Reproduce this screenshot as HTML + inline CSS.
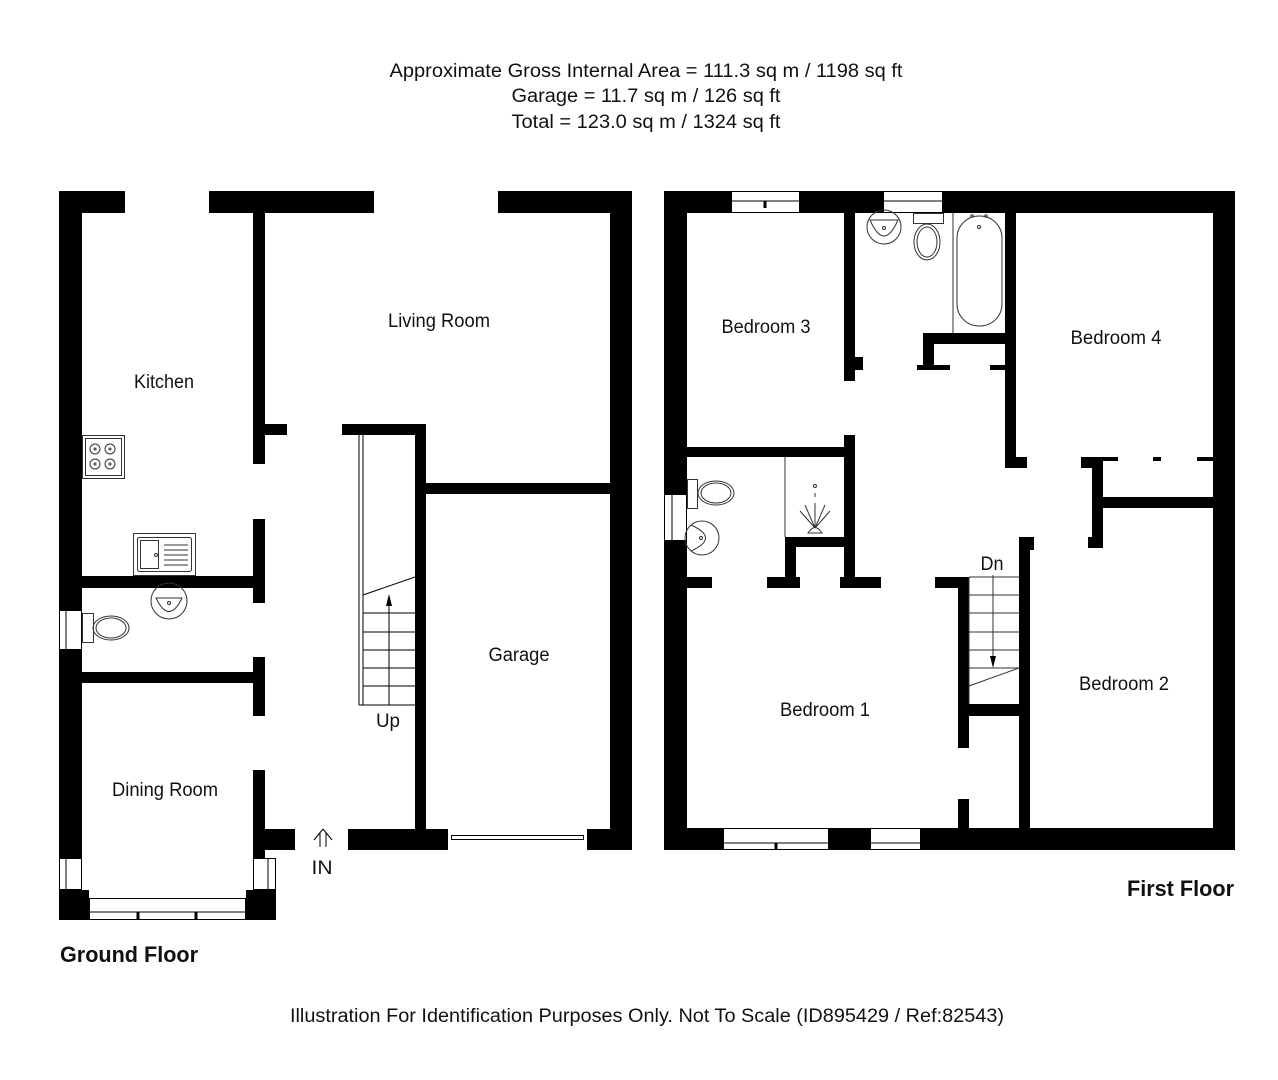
<!DOCTYPE html>
<html><head><meta charset="utf-8"><style>
html,body{margin:0;padding:0;background:#fff;}
svg{display:block;}
text{font-family:"Liberation Sans",Arial,sans-serif;fill:#111;}
</style></head><body>
<svg width="1278" height="1080" viewBox="0 0 1278 1080" xmlns="http://www.w3.org/2000/svg">
<rect width="1278" height="1080" fill="#fff"/>
<g font-size="19">
<text x="646" y="77" text-anchor="middle" textLength="513" lengthAdjust="spacingAndGlyphs">Approximate Gross Internal Area = 111.3 sq m / 1198 sq ft</text>
<text x="646" y="102" text-anchor="middle" textLength="269" lengthAdjust="spacingAndGlyphs">Garage = 11.7 sq m / 126 sq ft</text>
<text x="646" y="128" text-anchor="middle" textLength="269" lengthAdjust="spacingAndGlyphs">Total = 123.0 sq m / 1324 sq ft</text>
<text x="647" y="1022" text-anchor="middle" textLength="714" lengthAdjust="spacingAndGlyphs">Illustration For Identification Purposes Only. Not To Scale (ID895429 / Ref:82543)</text>
</g>

<!-- GROUND FLOOR -->
<g fill="#000">
<rect x="59" y="191" width="66" height="22"/>
<rect x="209" y="191" width="165" height="22"/>
<rect x="498" y="191" width="133" height="22"/>
<rect x="59" y="191" width="23" height="419"/>
<rect x="59" y="650" width="23" height="208"/>
<rect x="59" y="890" width="30" height="30"/>
<rect x="246" y="890" width="30" height="30"/>
<rect x="610" y="191" width="22" height="659"/>
<rect x="253" y="213" width="12" height="251"/>
<rect x="253" y="424" width="34" height="11"/>
<rect x="342" y="424" width="84" height="11"/>
<rect x="415" y="424" width="11" height="405"/>
<rect x="426" y="483" width="184" height="11"/>
<rect x="253" y="519" width="12" height="84"/>
<rect x="82" y="576" width="182" height="12"/>
<rect x="82" y="672" width="182" height="11"/>
<rect x="253" y="657" width="12" height="59"/>
<rect x="253" y="770" width="12" height="88"/>
<rect x="253" y="829" width="42" height="21"/>
<rect x="348" y="829" width="100" height="21"/>
<rect x="587" y="829" width="45" height="21"/>
</g>
<g fill="#fff" stroke="#000" stroke-width="1">
<rect x="59.5" y="610.5" width="22" height="39"/>
<line x1="66" y1="610" x2="66" y2="650"/>
<rect x="59.5" y="858.5" width="22" height="31"/>
<line x1="66" y1="858" x2="66" y2="890"/>
<rect x="253.5" y="858.5" width="22" height="31"/>
<line x1="268" y1="858" x2="268" y2="890"/>
<rect x="89.5" y="898.5" width="156" height="21"/>
<line x1="89" y1="912" x2="246" y2="912"/>
<line x1="138" y1="912" x2="138" y2="920" stroke-width="3"/>
<line x1="196" y1="912" x2="196" y2="920" stroke-width="3"/>
<rect x="451.5" y="835.5" width="132" height="4"/>
</g>
<!-- stairs ground -->
<g stroke="#000" stroke-width="1" fill="none">
<line x1="359" y1="435" x2="359" y2="705"/>
<line x1="363" y1="435" x2="363" y2="705"/>
<line x1="359" y1="705" x2="415" y2="705"/>
<line x1="363" y1="613" x2="415" y2="613"/>
<line x1="363" y1="632" x2="415" y2="632"/>
<line x1="363" y1="650" x2="415" y2="650"/>
<line x1="363" y1="668" x2="415" y2="668"/>
<line x1="363" y1="686" x2="415" y2="686"/>
<line x1="363" y1="595" x2="415" y2="577"/>
<line x1="389" y1="705" x2="389" y2="600"/>
<path d="M323 829 L314 840 M323 829 L332 840 M320 833 V847 M326 833 V847"/>
</g>
<polygon points="389,594 386,606 392,606" fill="#000"/>
<!-- kitchen fixtures -->
<g stroke="#333" stroke-width="1" fill="none">
<rect x="82.5" y="435.5" width="42" height="43"/>
<rect x="85.5" y="438.5" width="36" height="37"/>
<circle cx="95" cy="449" r="5"/><circle cx="110" cy="449" r="5"/>
<circle cx="95" cy="464" r="5"/><circle cx="110" cy="464" r="5"/>
<circle cx="95" cy="449" r="1"/><circle cx="110" cy="449" r="1"/>
<circle cx="95" cy="464" r="1"/><circle cx="110" cy="464" r="1"/>
<rect x="133.5" y="533.5" width="62" height="42"/>
<rect x="137.5" y="537.5" width="54" height="34" rx="2"/>
<rect x="140.5" y="540.5" width="18" height="28"/>
<line x1="164" y1="545" x2="188" y2="545"/><line x1="164" y1="550" x2="188" y2="550"/>
<line x1="164" y1="555" x2="188" y2="555"/><line x1="164" y1="560" x2="188" y2="560"/>
<line x1="164" y1="565" x2="188" y2="565"/>
<circle cx="156" cy="555" r="1.5"/>
<circle cx="169" cy="601" r="18"/>
<path d="M156 598 Q169 625 182 598 Z"/>
<circle cx="169" cy="603" r="1.5"/>
<rect x="82.5" y="613.5" width="11" height="29"/>
<ellipse cx="111" cy="628" rx="18" ry="12"/>
<ellipse cx="111" cy="628" rx="15" ry="10"/>
</g>
<g font-size="19">
<text x="164" y="388" text-anchor="middle" textLength="60" lengthAdjust="spacingAndGlyphs">Kitchen</text>
<text x="439" y="327" text-anchor="middle" textLength="102" lengthAdjust="spacingAndGlyphs">Living Room</text>
<text x="519" y="661" text-anchor="middle" textLength="61" lengthAdjust="spacingAndGlyphs">Garage</text>
<text x="165" y="796" text-anchor="middle" textLength="106" lengthAdjust="spacingAndGlyphs">Dining Room</text>
<text x="388" y="727" text-anchor="middle" textLength="24" lengthAdjust="spacingAndGlyphs">Up</text>
<text x="322" y="874" text-anchor="middle" textLength="21" lengthAdjust="spacingAndGlyphs">IN</text>
<text x="60" y="962" font-weight="bold" font-size="22" textLength="138" lengthAdjust="spacingAndGlyphs">Ground Floor</text>
<text x="1127" y="896" font-weight="bold" font-size="22" textLength="107" lengthAdjust="spacingAndGlyphs">First Floor</text>
</g>

<!-- FIRST FLOOR -->
<g fill="#000">
<rect x="664" y="191" width="571" height="22"/>
<rect x="664" y="191" width="23" height="303"/>
<rect x="664" y="541" width="23" height="309"/>
<rect x="1213" y="191" width="22" height="659"/>
<rect x="664" y="828" width="571" height="22"/>
<rect x="844" y="213" width="11" height="168"/>
<rect x="855" y="357" width="8" height="13"/>
<rect x="923" y="333" width="93" height="11"/>
<rect x="923" y="333" width="11" height="37"/>
<rect x="917" y="365" width="33" height="5"/>
<rect x="990" y="365" width="15" height="5"/>
<rect x="1005" y="213" width="11" height="255"/>
<rect x="1005" y="457" width="22" height="11"/>
<rect x="687" y="447" width="168" height="10"/>
<rect x="844" y="435" width="11" height="152"/>
<rect x="785" y="537" width="70" height="10"/>
<rect x="785" y="537" width="11" height="50"/>
<rect x="687" y="577" width="25" height="11"/>
<rect x="767" y="577" width="33" height="11"/>
<rect x="840" y="577" width="41" height="11"/>
<rect x="935" y="577" width="34" height="11"/>
<rect x="958" y="577" width="11" height="171"/>
<rect x="958" y="799" width="11" height="30"/>
<rect x="969" y="704" width="50" height="12"/>
<rect x="1019" y="537" width="11" height="292"/>
<rect x="1019" y="537" width="15" height="13"/>
<rect x="1081" y="457" width="22" height="11"/>
<rect x="1092" y="457" width="11" height="91"/>
<rect x="1088" y="537" width="15" height="11"/>
<rect x="1103" y="497" width="110" height="11"/>
<rect x="1103" y="457" width="15" height="4"/>
<rect x="1153" y="457" width="8" height="4"/>
<rect x="1197" y="457" width="16" height="4"/>
</g>
<g fill="#fff" stroke="#000" stroke-width="1">
<rect x="731.5" y="191.5" width="68" height="21"/>
<line x1="731" y1="201" x2="800" y2="201"/>
<line x1="765" y1="201" x2="765" y2="208" stroke-width="3"/>
<rect x="883.5" y="191.5" width="59" height="21"/>
<line x1="883" y1="201" x2="943" y2="201"/>
<rect x="664.5" y="494.5" width="22" height="46"/>
<line x1="672" y1="494" x2="672" y2="541"/>
<rect x="723.5" y="828.5" width="105" height="21"/>
<line x1="723" y1="843" x2="829" y2="843"/>
<line x1="776" y1="843" x2="776" y2="850" stroke-width="3"/>
<rect x="870.5" y="828.5" width="50" height="21"/>
<line x1="870" y1="843" x2="921" y2="843"/>
</g>
<g stroke="#333" stroke-width="1" fill="none">
<line x1="953" y1="213" x2="953" y2="333"/>
<rect x="957" y="216" width="45" height="110" rx="22"/>
<circle cx="979" cy="227" r="1.5"/><circle cx="972" cy="216" r="1.3"/><circle cx="986" cy="216" r="1.3"/>
<rect x="913.5" y="213.5" width="30" height="10"/>
<ellipse cx="927" cy="242" rx="13" ry="18"/>
<ellipse cx="927" cy="242" rx="10" ry="15"/>
<circle cx="884" cy="227" r="17"/>
<path d="M870 220 Q884 252 898 220 Z"/>
<circle cx="884" cy="228" r="1.5"/>
<rect x="687.5" y="479.5" width="10" height="29"/>
<ellipse cx="716" cy="493" rx="18" ry="12"/>
<ellipse cx="716" cy="493" rx="15" ry="10"/>
<circle cx="702" cy="538" r="17"/>
<path d="M691 525 Q720 538 691 551"/>
<circle cx="701" cy="538" r="1.5"/>
<line x1="785" y1="457" x2="785" y2="537"/>
<circle cx="815" cy="486" r="1.5"/>
<line x1="815" y1="493" x2="815" y2="497"/>
<path d="M815 528 L800 511 M815 528 L805 505 M815 528 L815 503 M815 528 L825 505 M815 528 L830 511"/>
<path d="M808 533 Q815 522 822 533 Z"/>
<line x1="969" y1="577" x2="969" y2="704"/>
<line x1="969" y1="577" x2="1019" y2="577"/>
<line x1="969" y1="595" x2="1019" y2="595"/>
<line x1="969" y1="613" x2="1019" y2="613"/>
<line x1="969" y1="632" x2="1019" y2="632"/>
<line x1="969" y1="650" x2="1019" y2="650"/>
<line x1="969" y1="668" x2="1019" y2="668"/>
<line x1="969" y1="686" x2="1019" y2="668"/>
<line x1="993" y1="575" x2="993" y2="658"/>
</g>
<polygon points="993,668 990,656 996,656" fill="#000"/>
<g font-size="19">
<text x="766" y="333" text-anchor="middle" textLength="89" lengthAdjust="spacingAndGlyphs">Bedroom 3</text>
<text x="1116" y="344" text-anchor="middle" textLength="91" lengthAdjust="spacingAndGlyphs">Bedroom 4</text>
<text x="825" y="716" text-anchor="middle" textLength="90" lengthAdjust="spacingAndGlyphs">Bedroom 1</text>
<text x="1124" y="690" text-anchor="middle" textLength="90" lengthAdjust="spacingAndGlyphs">Bedroom 2</text>
<text x="992" y="570" text-anchor="middle" textLength="23" lengthAdjust="spacingAndGlyphs">Dn</text>
</g>
</svg>
</body></html>
